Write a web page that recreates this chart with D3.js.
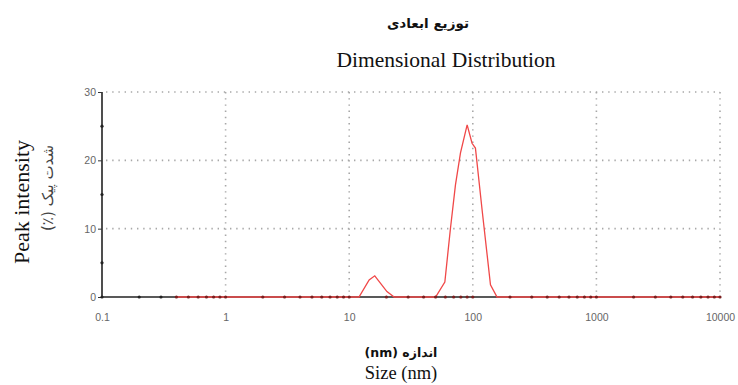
<!DOCTYPE html>
<html>
<head>
<meta charset="utf-8">
<script src="https://cdn.jsdelivr.net/npm/d3@7"></script>
<style>
  body { margin: 0; background: #fff; }
  svg { display: block; }
</style>
</head>
<body>
<svg width="738" height="385"></svg>
<script>
// size (nm) and peak intensity (%)
const sizeNm = [0.4, 12.0, 14.5, 16.1, 20.2, 23.1, 50, 59.4, 66, 72.4, 79.5, 90, 98.6, 105, 119, 139, 157, 10000];
const intensity = [0, 0, 2.5, 3.1, 0.8, 0, 0, 2.2, 10.1, 16.4, 21.1, 25.2, 22.5, 21.8, 12.7, 1.8, 0, 0];
const xTicks = [0.1, 1, 10, 100, 1000, 10000];
const xTickLabels = ['0.1', '1', '10', '100', '1000', '10000'];
const yTicks = [0, 10, 20, 30];

const svg = d3.select('svg');
const x = d3.scaleLog().domain([0.1, 10000]).range([102, 720]);
const y = d3.scaleLinear().domain([0, 30]).range([297, 92]);

// dotted grid
const grid = svg.append('g').attr('stroke', '#a8a8a8').attr('stroke-width', 1.6)
  .attr('stroke-dasharray', '1.4,4.8');
grid.selectAll('.hg').data(yTicks.slice(1)).enter().append('line')
  .attr('x1', x(0.1) + 4).attr('x2', x(10000))
  .attr('y1', d => y(d)).attr('y2', d => y(d));
grid.selectAll('.vg').data(xTicks.slice(1)).enter().append('line')
  .attr('x1', d => x(d)).attr('x2', d => x(d))
  .attr('y1', y(30)).attr('y2', y(0) - 3);

// axes
const xAxis = svg.append('g')
  .attr('transform', 'translate(0,' + y(0) + ')')
  .call(d3.axisBottom(x).tickValues(xTicks).tickSize(0).tickPadding(17)
    .tickFormat((d, i) => xTickLabels[i]));
const yAxis = svg.append('g')
  .attr('transform', 'translate(' + x(0.1) + ',0)')
  .call(d3.axisLeft(y).tickValues(yTicks).tickSize(4).tickPadding(2));
[xAxis, yAxis].forEach(a => {
  a.select('.domain').attr('stroke', '#222').attr('stroke-width', 1.6);
  a.selectAll('.tick line').attr('stroke', '#333');
  a.selectAll('text').attr('font-family', 'Liberation Sans, Arial, sans-serif')
    .attr('font-size', 10.5).attr('fill', '#666');
});
yAxis.select('.domain').attr('d', 'M0,' + y(30) + 'V' + y(0));
xAxis.select('.domain').attr('d', 'M' + x(0.1) + ',0H' + x(10000));

// red data line
const line = d3.line().x(d => x(d[0])).y(d => y(d[1]));
svg.append('path')
  .datum(sizeNm.map((s, i) => [s, intensity[i]]))
  .attr('d', line)
  .attr('fill', 'none')
  .attr('stroke', '#f04848')
  .attr('stroke-width', 1.3);

// minor tick dots on both axes
svg.append('g').selectAll('circle').data(x.ticks()).enter().append('circle')
  .attr('cx', d => x(d)).attr('cy', y(0)).attr('r', 1.6)
  .attr('fill', d => d >= 0.4 ? '#7a1f1f' : '#222');
svg.append('g').selectAll('circle').data([5, 15, 25]).enter().append('circle')
  .attr('cx', x(0.1)).attr('cy', d => y(d)).attr('r', 1.6).attr('fill', '#222');

// titles
svg.append('text').attr('x', 428).attr('y', 28).attr('text-anchor', 'middle')
  .attr('direction', 'rtl')
  .attr('font-family', 'DejaVu Sans, Noto Sans, sans-serif').attr('font-weight', 'bold')
  .attr('font-size', 13.5).attr('fill', '#111').text('توزیع ابعادی');
svg.append('text').attr('x', 446).attr('y', 67).attr('text-anchor', 'middle')
  .attr('font-family', 'Liberation Serif, Times New Roman, serif')
  .attr('font-size', 21.5).attr('fill', '#111').text('Dimensional Distribution');

// y labels
svg.append('text').attr('transform', 'translate(29,202) rotate(-90)')
  .attr('text-anchor', 'middle')
  .attr('font-family', 'Liberation Serif, Times New Roman, serif')
  .attr('font-size', 22).attr('fill', '#111').text('Peak intensity');
svg.append('text').attr('transform', 'translate(53,188) rotate(-90)')
  .attr('text-anchor', 'middle').attr('direction', 'rtl')
  .attr('font-family', 'DejaVu Sans, Noto Sans, sans-serif')
  .attr('font-size', 15).attr('fill', '#444').text('شدت پیک (٪)');

// x labels
svg.append('text').attr('x', 401).attr('y', 357).attr('text-anchor', 'middle')
  .attr('direction', 'rtl')
  .attr('font-family', 'DejaVu Sans, Noto Sans, sans-serif').attr('font-weight', 'bold')
  .attr('font-size', 12.5).attr('fill', '#111').text('اندازه (nm)');
svg.append('text').attr('x', 401).attr('y', 379).attr('text-anchor', 'middle')
  .attr('font-family', 'Liberation Serif, Times New Roman, serif')
  .attr('font-size', 18.5).attr('fill', '#111').text('Size (nm)');
</script>
</body>
</html>
